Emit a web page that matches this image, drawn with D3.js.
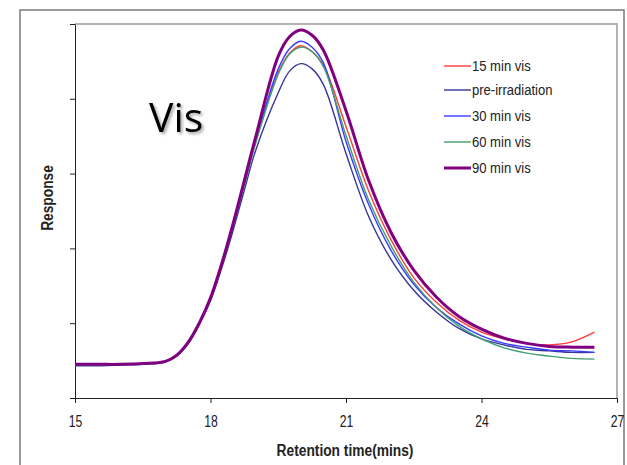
<!DOCTYPE html>
<html>
<head>
<meta charset="utf-8">
<script src="https://cdn.jsdelivr.net/npm/d3@7"></script>
<style>
  html, body { margin: 0; padding: 0; background: #fff; }
  svg { display: block; }
  .lab { font-family: "Liberation Sans", Arial, sans-serif; }
</style>
</head>
<body>
<svg id="chart" width="627" height="465"></svg>
<script>
// ---- data ----
const times = [15, 15.5, 16, 16.5, 17, 17.25, 17.5, 17.75, 18, 18.25, 18.5, 18.75, 19, 19.5, 19.75, 20, 20.25, 20.5, 21, 21.5, 22, 22.5, 23, 23.5, 24, 24.5, 25, 25.5, 26, 26.5];
const seriesNames = ["15 min vis", "pre-irradiation", "30 min vis", "60 min vis", "90 min vis"];
const vis15  = [0.44, 0.44, 0.45, 0.46, 0.49, 0.57, 0.74, 1.00, 1.33, 1.78, 2.30, 2.86, 3.42, 4.35, 4.61, 4.71, 4.63, 4.45, 3.63, 2.77, 2.11, 1.61, 1.28, 1.04, 0.88, 0.79, 0.73, 0.71, 0.75, 0.88];
const preIrr = [0.43, 0.43, 0.44, 0.45, 0.48, 0.56, 0.72, 0.98, 1.30, 1.74, 2.24, 2.78, 3.31, 4.08, 4.37, 4.47, 4.40, 4.19, 3.27, 2.43, 1.85, 1.44, 1.15, 0.93, 0.79, 0.71, 0.65, 0.63, 0.61, 0.61];
const vis30  = [0.44, 0.44, 0.45, 0.46, 0.49, 0.57, 0.74, 1.00, 1.33, 1.78, 2.30, 2.87, 3.44, 4.40, 4.67, 4.77, 4.69, 4.48, 3.43, 2.59, 1.97, 1.52, 1.21, 0.99, 0.83, 0.73, 0.68, 0.64, 0.63, 0.61];
const vis60  = [0.44, 0.44, 0.45, 0.46, 0.49, 0.58, 0.75, 1.01, 1.34, 1.79, 2.30, 2.85, 3.41, 4.33, 4.60, 4.69, 4.63, 4.43, 3.51, 2.65, 2.03, 1.55, 1.21, 0.96, 0.79, 0.67, 0.60, 0.56, 0.53, 0.52];
const vis90  = [0.45, 0.45, 0.45, 0.46, 0.49, 0.57, 0.74, 1.00, 1.34, 1.80, 2.33, 2.91, 3.49, 4.57, 4.83, 4.92, 4.85, 4.65, 3.84, 2.91, 2.21, 1.71, 1.35, 1.09, 0.92, 0.80, 0.73, 0.69, 0.68, 0.68];
const seriesValues = [vis15, preIrr, vis30, vis60, vis90];
const seriesColors = ["#ff3b3b", "#35359a", "#3a3aff", "#3f9f6f", "#800080"];
const seriesWidths = [1.4, 1.4, 1.4, 1.4, 3];
const xTicks = [15, 18, 21, 24, 27];
const yTicks = [0, 1, 2, 3, 4, 5];

// ---- layout ----
const svg = d3.select("#chart");
const pLeft = 75, pRight = 617, pTop = 24, pBottom = 398;
const x = d3.scaleLinear().domain([15, 27]).range([pLeft, pRight]);
const y = d3.scaleLinear().domain([0, 5]).range([pBottom, pTop]);

// outer frame
svg.append("rect").attr("x", 20).attr("y", 10).attr("width", 604).attr("height", 470)
  .attr("fill", "none").attr("stroke", "#7a7a7a").attr("stroke-width", 1.5);

// plot border (top / right)
svg.append("path")
  .attr("d", `M${pLeft},${pTop}H${pRight}V${pBottom}`)
  .attr("fill", "none").attr("stroke", "#b4b4b4").attr("stroke-width", 2);

// drop shadow filter for "Vis"
const defs = svg.append("defs");
const f = defs.append("filter").attr("id", "shadow").attr("x", "-20%").attr("y", "-20%").attr("width", "150%").attr("height", "150%");
f.append("feDropShadow").attr("dx", 2).attr("dy", 2).attr("stdDeviation", 1.5).attr("flood-color", "#000").attr("flood-opacity", 0.35);

// axes
const xAxis = svg.append("g").attr("transform", `translate(0,${pBottom})`)
  .call(d3.axisBottom(x).tickValues(xTicks).tickSize(5).tickSizeOuter(0).tickFormat(d3.format("d")));
xAxis.selectAll("text").attr("class", "lab").attr("font-size", 16.5).attr("fill", "#222")
  .attr("y", 0).attr("dy", 0).attr("transform", "translate(0,29) scale(0.74,1)");
xAxis.selectAll("path, line").attr("stroke", "#222");

const yAxis = svg.append("g").attr("transform", `translate(${pLeft},0)`)
  .call(d3.axisLeft(y).tickValues(yTicks).tickSize(5).tickSizeOuter(0).tickFormat(""));
yAxis.selectAll("path, line").attr("stroke", "#222");

// lines
const line = d3.line().x((d, i) => x(times[i])).y(d => y(d)).curve(d3.curveCatmullRom.alpha(0.5));
seriesValues.forEach((vals, k) => {
  svg.append("path").datum(vals)
    .attr("d", line)
    .attr("fill", "none")
    .attr("stroke", seriesColors[k])
    .attr("stroke-width", seriesWidths[k])
    .attr("stroke-linejoin", "round");
});

// legend
const legendY = [66, 90, 116, 142, 168];
seriesNames.forEach((name, k) => {
  svg.append("line").attr("x1", 444).attr("x2", 471).attr("y1", legendY[k]).attr("y2", legendY[k])
    .attr("stroke", seriesColors[k]).attr("stroke-width", seriesWidths[k]);
  svg.append("text").attr("class", "lab")
    .attr("transform", `translate(472,${legendY[k]}) scale(0.9,1)`).attr("dy", "0.36em")
    .attr("font-size", 14.5).attr("fill", "#222").text(name);
});

// "Vis" label
svg.append("text").attr("x", 149).attr("y", 132)
  .attr("font-family", "'Open Sans', 'Liberation Sans', sans-serif")
  .attr("font-size", 41).attr("fill", "#000").attr("filter", "url(#shadow)").text("Vis");

// axis titles
svg.append("text").attr("class", "lab")
  .attr("transform", `translate(${(pLeft + pRight) / 2 - 1},456) scale(0.81,1)`)
  .attr("text-anchor", "middle").attr("font-weight", "bold").attr("font-size", 17).attr("fill", "#222")
  .text("Retention time(mins)");
svg.append("text").attr("class", "lab")
  .attr("transform", "translate(53,198) rotate(-90) scale(0.81,1)")
  .attr("text-anchor", "middle").attr("font-weight", "bold").attr("font-size", 17).attr("fill", "#222")
  .text("Response");
</script>
</body>
</html>
